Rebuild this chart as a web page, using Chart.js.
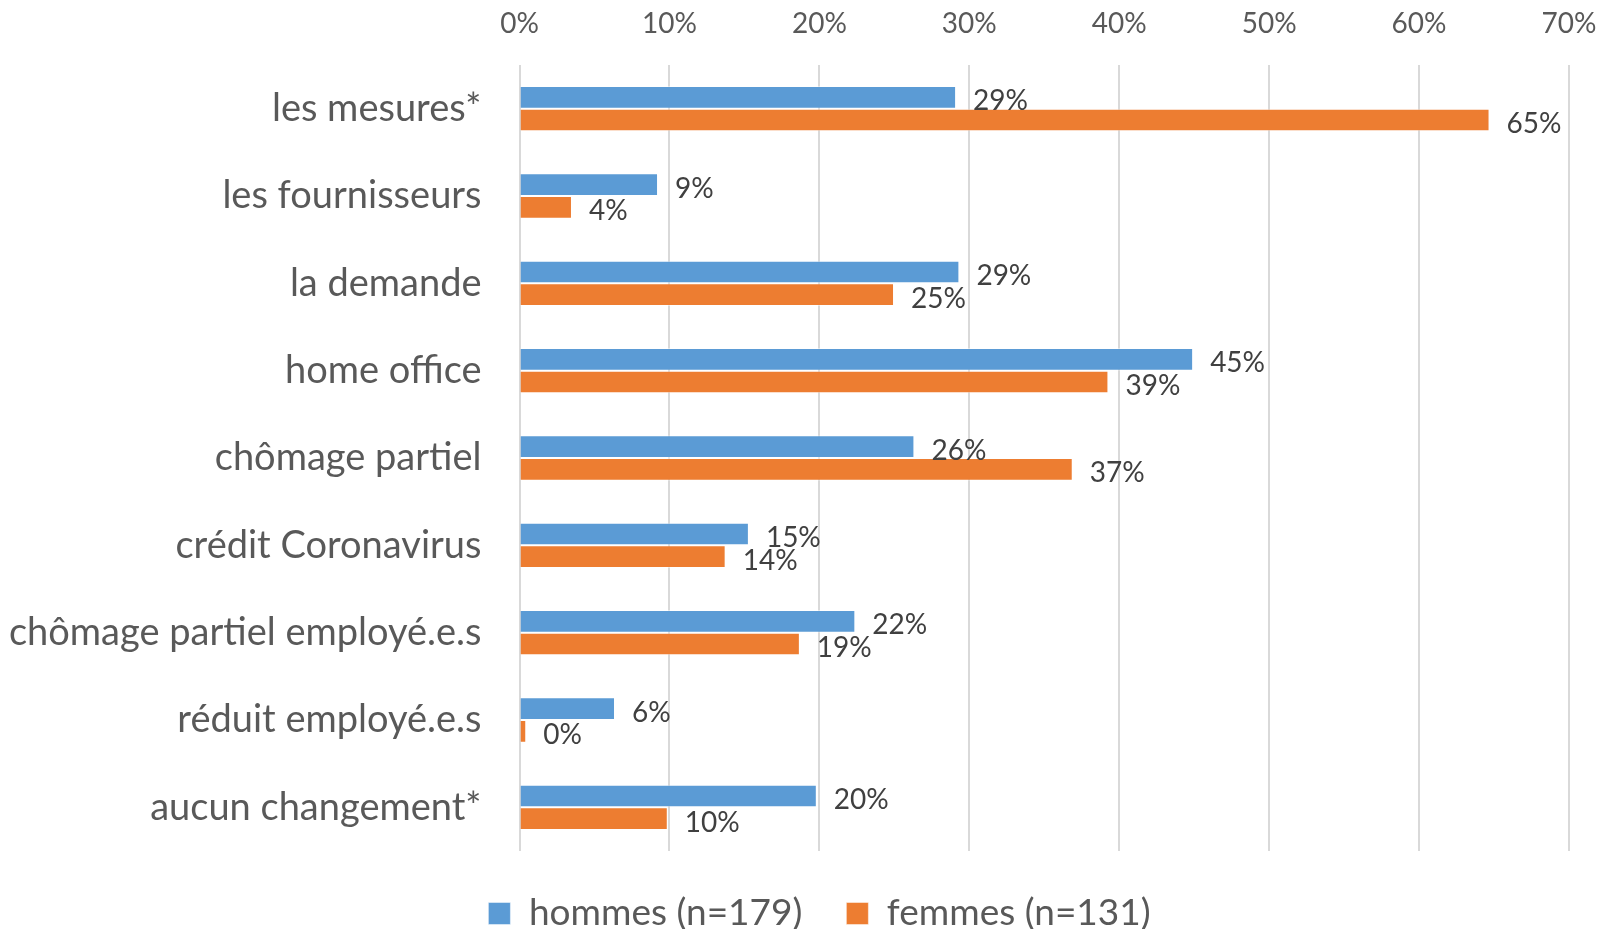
<!DOCTYPE html>
<html>
<head>
<meta charset="utf-8">
<script src="https://cdn.jsdelivr.net/npm/chart.js@4/dist/chart.umd.min.js"></script>
<style>
  html, body { margin: 0; padding: 0; background: #ffffff; }
  #wrap { width: 1601px; height: 929px; position: relative; }
</style>
</head>
<body>
<div id="wrap"><canvas id="c" width="1601" height="929"></canvas></div>
<script>
const categories = [
  "les mesures*",
  "les fournisseurs",
  "la demande",
  "home office",
  "chômage partiel",
  "crédit Coronavirus",
  "chômage partiel employé.e.s",
  "réduit employé.e.s",
  "aucun changement*"
];
const seriesNames = ["hommes (n=179)", "femmes (n=131)"];
const hommes = [29.12, 9.24, 29.34, 44.93, 26.34, 15.3, 22.4, 6.37, 19.83];
const femmes = [64.7, 3.5, 24.98, 39.28, 36.9, 13.75, 18.7, 0.45, 9.89];
const xTicks = [0, 10, 20, 30, 40, 50, 60, 70];

const FONT = "Lato";

const dataLabels = {
  id: "dataLabels",
  afterDatasetsDraw(chart) {
    const ctx = chart.ctx;
    ctx.save();
    ctx.font = "28px " + FONT;
    ctx.fillStyle = "#404040";
    ctx.textAlign = "left";
    ctx.textBaseline = "middle";
    chart.data.datasets.forEach((ds, di) => {
      const meta = chart.getDatasetMeta(di);
      meta.data.forEach((el, i) => {
        ctx.fillText(Math.round(ds.data[i]) + "%", el.x + 17, el.y + 4);
      });
    });
    ctx.restore();
  }
};

// shift the bottom legend a little to the right, as in the original
const legendShift = {
  id: "legendShift",
  afterLayout(chart) {
    if (chart.legend) {
      chart.legend.left += 19;
      chart.legend.right += 19;
    }
  }
};

new Chart(document.getElementById("c"), {
  type: "bar",
  data: {
    labels: categories,
    datasets: [
      { label: seriesNames[0], data: hommes, backgroundColor: "#5B9BD5",
        borderColor: "rgba(255,255,255,0.45)", borderWidth: 1,
        categoryPercentage: 0.52, barPercentage: 1.0 },
      { label: seriesNames[1], data: femmes, backgroundColor: "#ED7D31",
        borderColor: "rgba(255,255,255,0.45)", borderWidth: 1,
        categoryPercentage: 0.52, barPercentage: 1.0 }
    ]
  },
  options: {
    indexAxis: "y",
    responsive: false,
    animation: false,
    layout: { padding: { left: 0, right: 0, top: 0, bottom: 0 } },
    scales: {
      x: {
        position: "top",
        min: 0, max: 70,
        afterBuildTicks(scale) { scale.ticks = xTicks.map(v => ({ value: v })); },
        afterFit(scale) {
          scale.height = 65;
          scale.paddingLeft = 0;
          scale.paddingRight = 32;
        },
        ticks: {
          callback: v => v + "%",
          font: { family: FONT, size: 28 },
          color: "#595959",
          padding: 24
        },
        grid: { color: "#D9D9D9", lineWidth: 2, drawTicks: false },
        border: { display: false }
      },
      y: {
        afterFit(scale) { scale.width = 519.5; },
        ticks: {
          font: { family: FONT, size: 38 },
          color: "#595959",
          padding: 38
        },
        grid: { display: false, drawTicks: false },
        border: { display: false }
      }
    },
    plugins: {
      legend: {
        position: "bottom",
        maxHeight: 78,
        labels: {
          font: { family: FONT, size: 37 },
          color: "#595959",
          boxWidth: 22,
          boxHeight: 22,
          padding: 44
        }
      },
      tooltip: { enabled: false },
      title: { display: false }
    }
  },
  plugins: [dataLabels, legendShift]
});
</script>
</body>
</html>
